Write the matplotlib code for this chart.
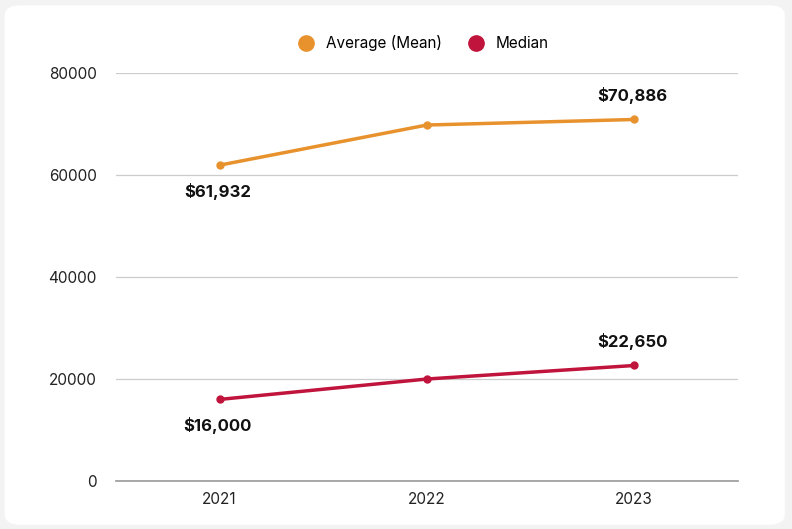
import matplotlib.pyplot as plt
from matplotlib.patches import FancyBboxPatch
from matplotlib.lines import Line2D

years = ['2021', '2022', '2023']
mean_vals = [61932, 69800, 70886]
median_vals = [16000, 20000, 22650]
mean_labels = ['$61,932', '', '$70,886']
median_labels = ['$16,000', '', '$22,650']

orange = '#E8922E'
red = '#C0143C'

plt.rcParams['font.family'] = ['Inter', 'DejaVu Sans']

fig = plt.figure(figsize=(7.92, 5.29), dpi=100)
fig.patch.set_facecolor('#f3f3f3')
card = FancyBboxPatch((0.006, 0.008), 0.985, 0.982, boxstyle='round,pad=0,rounding_size=0.02',
                      transform=fig.transFigure, facecolor='white', edgecolor='none', zorder=-5)
fig.patches.append(card)

ax = fig.add_axes([0.1465, 0.0907, 0.785, 0.7713])
ax.set_facecolor('none')
x = range(len(years))
ax.plot(x, mean_vals, color=orange, lw=2.5, marker='o', ms=5, solid_capstyle='round')
ax.plot(x, median_vals, color=red, lw=2.5, marker='o', ms=5, solid_capstyle='round')

# value labels on first and last points
for vals, labels in [(mean_vals, mean_labels), (median_vals, median_labels)]:
    for i, (lab, v) in enumerate(zip(labels, vals)):
        if lab:
            off = -26 if i == 0 else 24
            ax.annotate(lab, (i, v), xytext=(-2, off), textcoords='offset pixels',
                        ha='center', va='center', fontsize=12, fontweight='bold', color='#111111')

ax.set_xlim(-0.5, 2.5)
ax.set_ylim(0, 80000)
ax.set_xticks(list(x))
ax.set_xticklabels(years)
ax.set_yticks([0, 20000, 40000, 60000, 80000])
ax.tick_params(axis='both', length=0, labelsize=11, labelcolor='#222222')
ax.tick_params(axis='y', pad=14)
ax.tick_params(axis='x', pad=8)
ax.grid(axis='y', color='#cccccc', lw=0.9)
ax.set_axisbelow(True)
for s in ['top', 'right', 'left']:
    ax.spines[s].set_visible(False)
ax.spines['bottom'].set_color('#999999')
ax.spines['bottom'].set_linewidth(1.2)

handles = [Line2D([], [], ls='none', marker='o', ms=11, color=orange),
           Line2D([], [], ls='none', marker='o', ms=11, color=red)]
fig.legend(handles, ['Average (Mean)', 'Median'], loc='center', bbox_to_anchor=(0.53, 0.918),
           ncol=2, frameon=False, fontsize=11, handletextpad=0.3, columnspacing=1.2)

fig.savefig('out.png', dpi=100, facecolor=fig.get_facecolor())
